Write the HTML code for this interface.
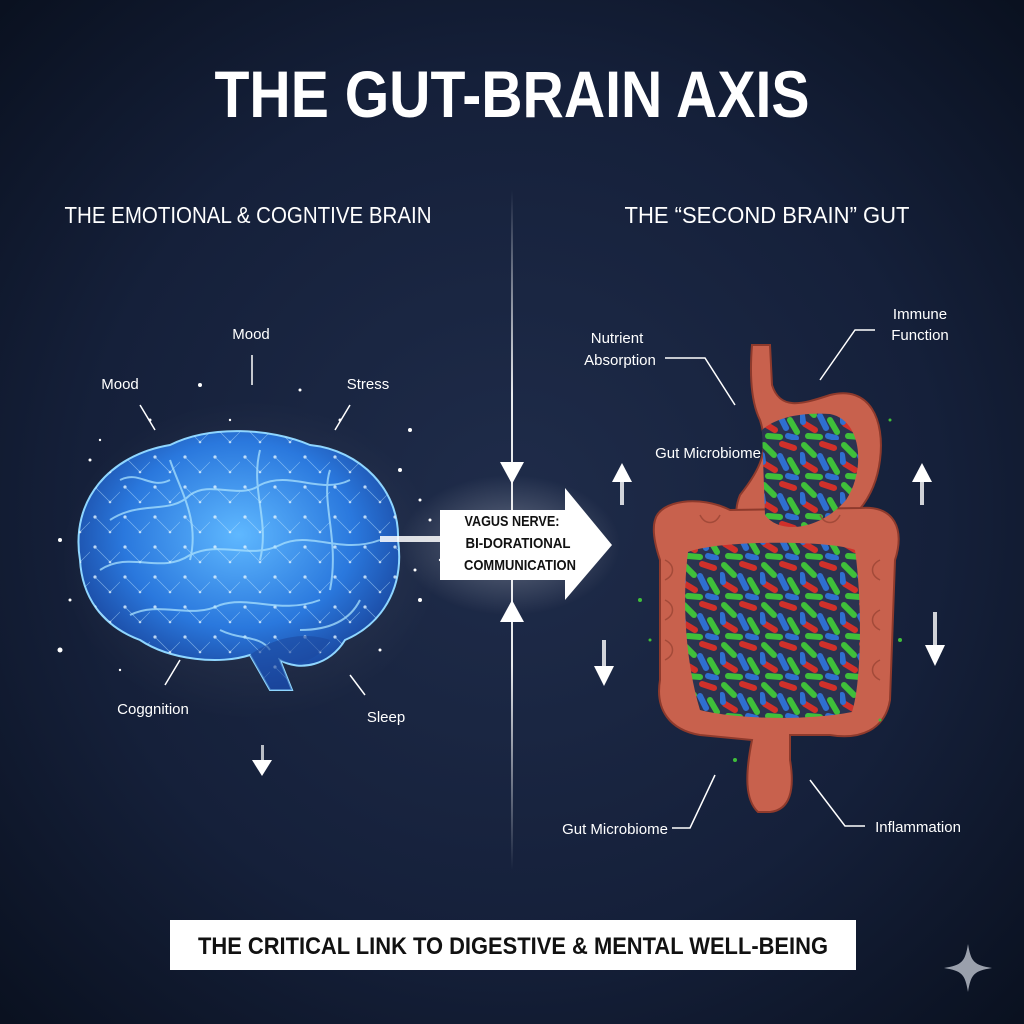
<!DOCTYPE html>
<html><head><meta charset="utf-8"><style>
html,body{margin:0;padding:0;background:#111a2e}
svg{display:block}
text{font-family:"Liberation Sans",sans-serif}
</style></head><body>
<svg width="1024" height="1024" viewBox="0 0 1024 1024" xmlns="http://www.w3.org/2000/svg">
<defs>
<radialGradient id="bg" cx="50%" cy="50%" r="70%">
<stop offset="0" stop-color="#1f2c4a"/><stop offset="0.6" stop-color="#15203a"/><stop offset="1" stop-color="#0a1120"/></radialGradient>
<radialGradient id="brain" cx="50%" cy="40%" r="60%">
<stop offset="0" stop-color="#5fb8ff"/><stop offset="0.6" stop-color="#2a78dd"/><stop offset="1" stop-color="#173f95"/></radialGradient>
<radialGradient id="glow" cx="50%" cy="50%" r="50%">
<stop offset="0" stop-color="#ffffff" stop-opacity="0.9"/><stop offset="1" stop-color="#ffffff" stop-opacity="0"/></radialGradient>
<linearGradient id="vline" x1="0" y1="0" x2="0" y2="1">
<stop offset="0" stop-color="#fff" stop-opacity="0"/><stop offset="0.3" stop-color="#fff" stop-opacity="0.9"/><stop offset="0.7" stop-color="#fff" stop-opacity="0.9"/><stop offset="1" stop-color="#fff" stop-opacity="0"/></linearGradient>
<pattern id="bact" width="40" height="40" patternUnits="userSpaceOnUse">
<rect width="40" height="40" fill="#2b3350"/>
<g stroke-width="6" stroke-linecap="round">
<line x1="4" y1="5" x2="14" y2="15" stroke="#3fbf3a"/>
<line x1="22" y1="4" x2="34" y2="8" stroke="#d0302a"/>
<line x1="20" y1="16" x2="26" y2="28" stroke="#2f6fd0"/>
<line x1="30" y1="20" x2="37" y2="32" stroke="#3fbf3a"/>
<line x1="5" y1="24" x2="15" y2="30" stroke="#d0302a"/>
<line x1="8" y1="36" x2="20" y2="37" stroke="#3fbf3a"/>
<line x1="28" y1="36" x2="36" y2="38" stroke="#2f6fd0"/>
<line x1="2" y1="15" x2="3" y2="22" stroke="#2f6fd0"/>
</g>
</pattern>
<pattern id="net" width="30" height="30" patternUnits="userSpaceOnUse">
<circle cx="5" cy="7" r="1.6" fill="#e8f6ff"/><circle cx="20" cy="22" r="1.3" fill="#e8f6ff"/>
<line x1="5" y1="7" x2="20" y2="22" stroke="#bfe6ff" stroke-width="0.6" opacity="0.7"/>
<line x1="20" y1="22" x2="35" y2="7" stroke="#bfe6ff" stroke-width="0.6" opacity="0.7"/>
</pattern>
</defs>
<rect width="1024" height="1024" fill="url(#bg)"/>

<text x="512" y="117" text-anchor="middle" font-size="66" font-weight="bold" fill="#fff" textLength="595" lengthAdjust="spacingAndGlyphs">THE GUT-BRAIN AXIS</text>
<text x="248" y="223" text-anchor="middle" font-size="23" fill="#fff" textLength="367" lengthAdjust="spacingAndGlyphs">THE EMOTIONAL &amp; COGNTIVE BRAIN</text>
<text x="767" y="223" text-anchor="middle" font-size="23" fill="#fff" textLength="285" lengthAdjust="spacingAndGlyphs">THE “SECOND BRAIN” GUT</text>

<rect x="511" y="190" width="2" height="680" fill="url(#vline)"/>
<path d="M500 462 L512 484 L524 462 Z" fill="#fff"/>
<path d="M500 622 L512 600 L524 622 Z" fill="#fff"/>

<!-- brain -->
<ellipse cx="250" cy="560" rx="190" ry="160" fill="url(#glow)" opacity="0.12"/>
<path d="M80 560 C70 500 110 455 170 445 C210 425 270 428 310 445 C360 450 400 490 398 540 C405 590 380 625 345 640 C330 665 300 672 280 660 L292 690 L270 690 L250 655 C220 665 170 660 140 640 C100 625 82 595 80 560 Z" fill="url(#brain)" stroke="#8fd6ff" stroke-width="2"/>
<path d="M80 560 C70 500 110 455 170 445 C210 425 270 428 310 445 C360 450 400 490 398 540 C405 590 380 625 345 640 C330 665 300 672 280 660 L292 690 L270 690 L250 655 C220 665 170 660 140 640 C100 625 82 595 80 560 Z" fill="url(#net)" opacity="0.8"/>
<g fill="none" stroke="#a9e2ff" stroke-width="2" opacity="0.75">
<path d="M110 520 C140 500 170 515 190 495 C210 480 240 500 260 485 C290 470 320 495 350 480"/>
<path d="M100 570 C130 550 160 575 190 555 C220 540 250 560 280 545 C310 530 340 555 380 540"/>
<path d="M130 615 C160 600 190 620 220 605 C250 595 280 615 320 600"/>
<path d="M170 460 C180 490 200 520 190 560 M260 450 C250 490 270 520 260 560 M330 470 C320 500 340 540 330 590"/>
<path d="M120 480 C140 470 150 490 170 480 M360 600 C350 620 330 630 300 630 M220 630 C240 640 260 635 270 650"/>
</g>
<path d="M250 655 C270 640 300 630 330 640 C320 660 295 668 280 660 L292 690 L270 690 Z" fill="#1c4aa0" opacity="0.6"/>
<g fill="#fff">
<circle cx="60" cy="540" r="2"/><circle cx="90" cy="460" r="1.5"/><circle cx="400" cy="470" r="2"/><circle cx="420" cy="600" r="2"/><circle cx="200" cy="385" r="2"/><circle cx="300" cy="390" r="1.5"/><circle cx="410" cy="430" r="2"/><circle cx="60" cy="650" r="2.5"/><circle cx="430" cy="520" r="1.5"/><circle cx="150" cy="420" r="1.5"/>
<circle cx="420" cy="500" r="1.5"/><circle cx="440" cy="560" r="1.2"/><circle cx="415" cy="570" r="1.5"/><circle cx="100" cy="440" r="1.2"/><circle cx="70" cy="600" r="1.5"/><circle cx="380" cy="650" r="1.5"/><circle cx="230" cy="420" r="1.2"/><circle cx="340" cy="420" r="1.5"/><circle cx="120" cy="670" r="1.2"/>
</g>
<rect x="380" y="536" width="80" height="6" fill="#fff" opacity="0.85"/>

<g font-size="15" fill="#fff" text-anchor="middle">
<text x="251" y="339">Mood</text><text x="120" y="389">Mood</text><text x="368" y="389">Stress</text>
<text x="153" y="714">Coggnition</text><text x="386" y="722">Sleep</text>
</g>
<g stroke="#fff" stroke-width="1.5">
<line x1="252" y1="355" x2="252" y2="385"/><line x1="140" y1="405" x2="155" y2="430"/><line x1="350" y1="405" x2="335" y2="430"/>
<line x1="180" y1="660" x2="165" y2="685"/><line x1="350" y1="675" x2="365" y2="695"/>
</g>
<rect x="261" y="745" width="3" height="20" fill="#fff" opacity="0.7"/><path d="M252 760 L262 776 L272 760 Z" fill="#fff"/>

<!-- center arrow -->
<ellipse cx="510" cy="545" rx="110" ry="70" fill="url(#glow)" opacity="0.35"/>
<path d="M440 510 L565 510 L565 488 L612 545 L565 600 L565 580 L440 580 Z" fill="#fff"/>
<g font-size="15" font-weight="bold" fill="#111" text-anchor="middle">
<text x="512" y="526" textLength="95" lengthAdjust="spacingAndGlyphs">VAGUS NERVE:</text>
<text x="518" y="548" textLength="105" lengthAdjust="spacingAndGlyphs">BI-DORATIONAL</text>
<text x="520" y="570" textLength="112" lengthAdjust="spacingAndGlyphs">COMMUNICATION</text>
</g>

<!-- gut -->
<g fill="#c8614d" stroke="#8e3a2c" stroke-width="2">
<path d="M752 345 L770 345 L772 385 C780 410 800 405 830 395 C870 385 885 420 880 460 C875 500 850 535 790 545 C745 552 728 525 740 495 C760 470 770 450 760 420 C750 400 750 370 752 345 Z"/>
<path d="M655 520 C660 500 700 495 730 510 L860 508 C895 505 905 530 895 560 L890 700 C885 730 860 740 830 735 L790 735 L790 760 C795 790 790 810 770 812 L758 812 C745 800 745 775 752 740 L700 735 C670 730 655 710 660 680 L660 560 C655 545 652 530 655 520 Z"/>
</g>
<path d="M688 552 C720 540 830 540 855 550 C862 600 862 680 852 712 C800 722 730 718 700 710 C685 660 682 600 688 552 Z" fill="url(#bact)"/>
<path d="M762 430 C775 418 800 412 830 414 C862 420 866 470 846 500 C820 530 780 535 765 515 Z" fill="url(#bact)"/>
<g fill="none" stroke="#9a4535" stroke-width="1.5" opacity="0.8">
<path d="M665 560 C675 565 675 575 665 580 M665 600 C675 605 675 615 665 620 M665 640 C675 645 675 655 665 660 M880 560 C870 565 870 575 880 580 M880 610 C870 615 870 625 880 630 M880 660 C870 665 870 675 880 680 M700 515 C705 525 715 525 720 515 M820 515 C825 525 835 525 840 515"/>
</g>
<g fill="#3fbf3a">
<circle cx="640" cy="600" r="2"/><circle cx="650" cy="640" r="1.5"/><circle cx="900" cy="640" r="2"/><circle cx="890" cy="420" r="1.5"/><circle cx="735" cy="760" r="2"/><circle cx="880" cy="720" r="1.5"/>
</g>

<g font-size="15" fill="#fff" text-anchor="middle">
<text x="617" y="343">Nutrient</text><text x="620" y="365">Absorption</text>
<text x="920" y="319">Immune</text><text x="920" y="340">Function</text>
<text x="708" y="458">Gut Microbiome</text>
<text x="615" y="834">Gut Microbiome</text>
<text x="918" y="832">Inflammation</text>
</g>
<g stroke="#fff" stroke-width="1.5" fill="none">
<path d="M665 358 L705 358 L735 405"/><path d="M875 330 L855 330 L820 380"/>
<path d="M672 828 L690 828 L715 775"/><path d="M865 826 L845 826 L810 780"/>
</g>
<g fill="#fff">
<rect x="620" y="478" width="4" height="27" opacity="0.8"/><path d="M612 482 L622 463 L632 482 Z"/>
<rect x="602" y="640" width="4" height="30" opacity="0.8"/><path d="M594 666 L604 686 L614 666 Z"/>
<rect x="920" y="478" width="4" height="27" opacity="0.8"/><path d="M912 482 L922 463 L932 482 Z"/>
<rect x="933" y="612" width="4" height="35" opacity="0.8"/><path d="M925 645 L935 666 L945 645 Z"/>
</g>

<rect x="170" y="920" width="686" height="50" fill="#fff"/>
<text x="513" y="954" text-anchor="middle" font-size="24" font-weight="bold" fill="#111" textLength="630" lengthAdjust="spacingAndGlyphs">THE CRITICAL LINK TO DIGESTIVE &amp; MENTAL WELL-BEING</text>

<path d="M968 944 C971 962 974 965 992 968 C974 971 971 974 968 992 C965 974 962 971 944 968 C962 965 965 962 968 944 Z" fill="#9aa0ac"/>
</svg>
</body></html>
